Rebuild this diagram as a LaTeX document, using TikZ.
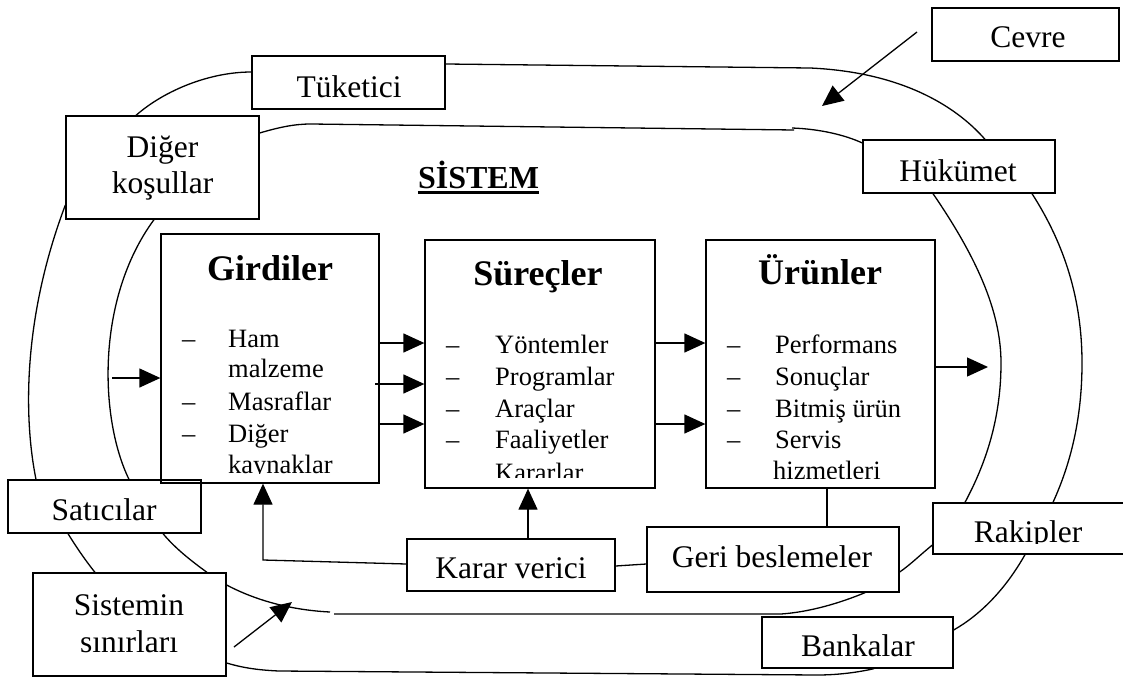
\documentclass[tikz,border=0pt]{standalone}
\usepackage{fontspec}
\setmainfont{Liberation Serif}
\usetikzlibrary{arrows.meta,calc}
\begin{document}
\begin{tikzpicture}[x=1pt,y=-1pt,
  box/.style={draw,line width=1.3pt,inner sep=0pt},
  lbl/.style={font=\fontsize{31.5}{36}\selectfont,anchor=base,inner sep=0pt},
  ttl/.style={font=\fontsize{36}{40}\selectfont\bfseries,anchor=base,inner sep=0pt},
  itm/.style={font=\fontsize{26.5}{30}\selectfont,anchor=base west,inner sep=0pt},
  ln/.style={line width=1.3pt},
  arr/.style={line width=1.3pt,-{Triangle[length=21pt,width=19pt]}},
]
\useasboundingbox (0,0) rectangle (1123,677);

% ---------- outer boxes ----------
\node[box,minimum width=187pt,minimum height=53pt] (cevre) at (1025.5,34.5) {};
\node[lbl] (cevreT) at (1028,48) {Cevre};
\node[box,minimum width=193pt,minimum height=53pt] (tuk) at (348.5,82.5) {};
\node[lbl] (tukT) at (349,97) {Tüketici};
\node[box,minimum width=193pt,minimum height=103pt] (diger) at (162.5,167.5) {};
\node[lbl] (digerT1) at (162.5,157) {Diğer};
\node[lbl] (digerT2) at (162.5,193) {koşullar};
\node[box,minimum width=192pt,minimum height=53pt] (huk) at (959,166.5) {};
\node[lbl] (hukT) at (958,181) {Hükümet};
\node[box,minimum width=193pt,minimum height=53pt] (sat) at (104.5,506.5) {};
\node[lbl] (satT) at (104,520) {Satıcılar};
\node[box,minimum width=195pt,minimum height=51pt] (rak) at (1030.5,528.5) {};
\begin{scope}
  \clip (933,503) rectangle (1123,543);
  \node[lbl] (rakT) at (1028,542) {Rakipler};
\end{scope}
\node[box,minimum width=252pt,minimum height=65pt] (geri) at (773,559.5) {};
\node[lbl] (geriT) at (772,567) {Geri beslemeler};
\node[box,minimum width=208pt,minimum height=52pt] (karar) at (511,565) {};
\node[lbl] (kararT) at (511,578) {Karar verici};
\node[box,minimum width=193pt,minimum height=103pt] (sis) at (129.5,624.5) {};
\node[lbl] (sisT1) at (129,615) {Sistemin};
\node[lbl] (sisT2) at (129,652) {sınırları};
\node[box,minimum width=191pt,minimum height=51pt] (bank) at (857.5,642.5) {};
\node[lbl] (bankT) at (858,656) {Bankalar};

% ---------- title ----------
\node[font=\fontsize{32}{36}\selectfont\bfseries,anchor=base,inner sep=0pt] (sistem) at (478.5,188) {SİSTEM};
\draw[line width=2.6pt] ([yshift=-4pt]sistem.south west) -- ([yshift=-4pt]sistem.south east);

% ---------- main boxes ----------
\node[box,minimum width=218pt,minimum height=249pt] (gir) at (270,358.5) {};
\node[box,minimum width=230pt,minimum height=248pt] (sur) at (540,364) {};
\node[box,minimum width=229pt,minimum height=248pt] (urun) at (820.5,364) {};

\node[ttl] (girT) at (270,280) {Girdiler};
\node[ttl] (surT) at (538,285) {Süreçler};
\node[ttl] (urunT) at (820,284) {Ürünler};

\begin{scope}
  \clip (161,234) rectangle (379,473);
  \node[itm] (g1) at (182,347) {–};
  \node[itm] (g2) at (182,410) {–};
  \node[itm] (g3) at (182,442) {–};
  \node[itm] (ga) at (228,347) {Ham};
  \node[itm] (gb) at (228,377) {malzeme};
  \node[itm] (gc) at (228,410) {Masraflar};
  \node[itm] (gd) at (228,442) {Diğer};
  \node[itm] (ge) at (228,473) {kaynaklar};
\end{scope}
\begin{scope}
  \clip (425,240) rectangle (655,477);
  \node[itm] (s1) at (446,353) {–};
  \node[itm] (s2) at (446,385) {–};
  \node[itm] (s3) at (446,417) {–};
  \node[itm] (s4) at (446,448) {–};
  \node[itm] (sa) at (495,353) {Yöntemler};
  \node[itm] (sb) at (495,385) {Programlar};
  \node[itm] (sc) at (495,417) {Araçlar};
  \node[itm] (sd) at (495,448) {Faaliyetler};
  \node[itm] (se) at (495,481) {Kararlar};
\end{scope}
\begin{scope}
  \clip (706,240) rectangle (935,478);
  \node[itm] (u1) at (727,353) {–};
  \node[itm] (u2) at (727,385) {–};
  \node[itm] (u3) at (727,417) {–};
  \node[itm] (u4) at (727,448) {–};
  \node[itm] (ua) at (775,353) {Performans};
  \node[itm] (ub) at (775,385) {Sonuçlar};
  \node[itm] (uc) at (775,417) {Bitmiş ürün};
  \node[itm] (ud) at (775,448) {Servis};
  \node[itm] (ue) at (773,479) {hizmetleri};
\end{scope}

% ---------- outer loop ----------
\draw[ln] (tuk.east |- 0,64) -- (810,68) .. controls (900,72) and (955,105) .. (huk.north -| 985,0);
\draw[ln] (huk.south -| 1032,0) .. controls (1065,245) and (1082,300) .. (1082,363)
          .. controls (1082,420) and (1070,465) .. (rak.north -| 1053,0);
\draw[ln] (rak.south -| 1025,0) .. controls (1005,590) and (980,615) .. (bank.east |- 0,630);
\draw[ln] (bank.south -| 874,0) .. controls (855,673) and (835,675) .. (817,675) -- (279,671)
          .. controls (255,670) and (240,667) .. (sis.east |- 0,663);
\draw[ln] (sis.north -| 95,0) .. controls (85,560) and (75,545) .. (sat.south -| 68,0);
\draw[ln] (sat.north -| 36,0) .. controls (24,420) and (22,320) .. (diger.west |- 0,205);
\draw[ln] (diger.north -| 136,0) .. controls (165,90) and (210,72) .. (tuk.west |- 0,72);

% ---------- inner loop ----------
\draw[ln] (diger.east |- 0,133) .. controls (280,127) and (295,124) .. (311,124) -- (794,130);
\draw[ln] (792,128) .. controls (820,129) and (845,135) .. (huk.west |- 0,143);
\draw[ln] (huk.south -| 933,0) .. controls (975,255) and (1001,310) .. (1001,363)
          .. controls (1001,420) and (985,465) .. (rak.north -| 965,0);
\draw[ln] (rak.west |- 0,545) .. controls (920,555) and (910,565) .. (geri.east |- 0,572);
\draw[ln] (geri.south -| 865,0) .. controls (840,603) and (810,612) .. (781,614) -- (334,614);
\draw[ln] (330,612) .. controls (290,610) and (255,600) .. (sis.east |- 0,585);
\draw[ln] (sis.north -| 207,0) .. controls (190,560) and (175,548) .. (sat.south -| 163,0);
\draw[ln] (sat.north -| 129,0) .. controls (100,420) and (95,300) .. (diger.south -| 154,0);

% ---------- arrows ----------
\coordinate (cevreA) at (917,32);
\coordinate (cevreB) at (822,106);
\draw[arr] (cevreA) -- (cevreB);
\coordinate (inA) at (112,378);
\draw[arr] (inA) -- (gir.west |- inA);
\draw[arr] (gir.east |- 0,343) -- (sur.west |- 0,343);
\draw[arr] (375,384) -- (sur.west |- 0,384);
\draw[arr] (gir.east |- 0,424) -- (sur.west |- 0,424);
\draw[arr] (sur.east |- 0,343) -- (urun.west |- 0,343);
\draw[arr] (sur.east |- 0,424) -- (urun.west |- 0,424);
\coordinate (outB) at (988,367);
\draw[arr] (urun.east |- outB) -- (outB);
\draw[arr] (karar.west |- 0,564) -- (263,560) -- (gir.south -| 263,0);
\draw[arr] (karar.north -| 528,0) -- (sur.south -| 528,0);
\draw[ln] (urun.south -| 827,0) -- (geri.north -| 827,0);
\draw[ln] (karar.east |- 0,566) -- (geri.west |- 0,564);
\coordinate (sisA) at (234,647);
\coordinate (sisB) at (292,602);
\draw[arr] (sisA) -- (sisB);
\end{tikzpicture}
\end{document}
